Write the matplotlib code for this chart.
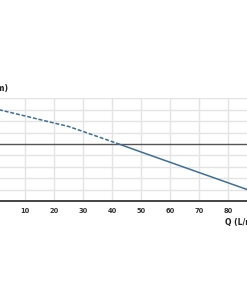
import matplotlib
matplotlib.use("Agg")
import matplotlib.pyplot as plt

# flow (L/min) vs head (m)
q_dashed = [0, 10, 20, 25, 30, 40, 43]
h_dashed = [80.7, 74.6, 68.4, 65.4, 61.0, 52.1, 49.4]
q_solid = [43, 50, 60, 70, 80, 90]
h_solid = [49.4, 43.0, 34.0, 25.0, 16.0, 7.0]
x_ticks = [10, 20, 30, 40, 50, 60, 70, 80]
y_grid = [10, 20, 30, 40, 60, 70, 80, 90]

W, H = 247, 296
fig = plt.figure(figsize=(W / 100, H / 100), dpi=100)
fig.patch.set_facecolor("white")

bottom_px, top_px = 201, 98.4
ax = fig.add_axes([0, (H - bottom_px) / H, 1, (bottom_px - top_px) / H])
ax.set_xlim(4 / 2.9, (W + 4) / 2.9)
ax.set_ylim(0, 90)

for x in x_ticks:
    ax.axvline(x, color="#e4e4e4", lw=1.0, zorder=1)
for y in y_grid:
    ax.axhline(y, color="#e4e4e4", lw=1.0, zorder=1)
ax.axhline(50, color="#555555", lw=1.0, zorder=2)
ax.axhline(0, color="#444444", lw=1.4, zorder=2, clip_on=False)

ax.plot(q_dashed, h_dashed, color="#3f6f94", lw=1.1, dashes=(2.6, 1.2), zorder=3)
ax.plot(q_solid, h_solid, color="#3f6f94", lw=1.1, zorder=3)

for s in ax.spines.values():
    s.set_visible(False)
ax.set_yticks([])
ax.set_xticks(x_ticks)
ax.set_xticklabels([str(v) for v in x_ticks], fontsize=4.8, fontweight="bold", color="#333333")
ax.tick_params(axis="x", length=0, pad=5)

fig.text(8 / W, 1 - 88 / H, "H (m)", ha="right", va="center", fontsize=5.5,
         fontweight="bold", color="#222222")
fig.text(225 / W, 1 - 222 / H, "Q (L/min)", ha="left", va="center", fontsize=5.5,
         fontweight="bold", color="#222222")

fig.savefig("out.png", dpi=100)
